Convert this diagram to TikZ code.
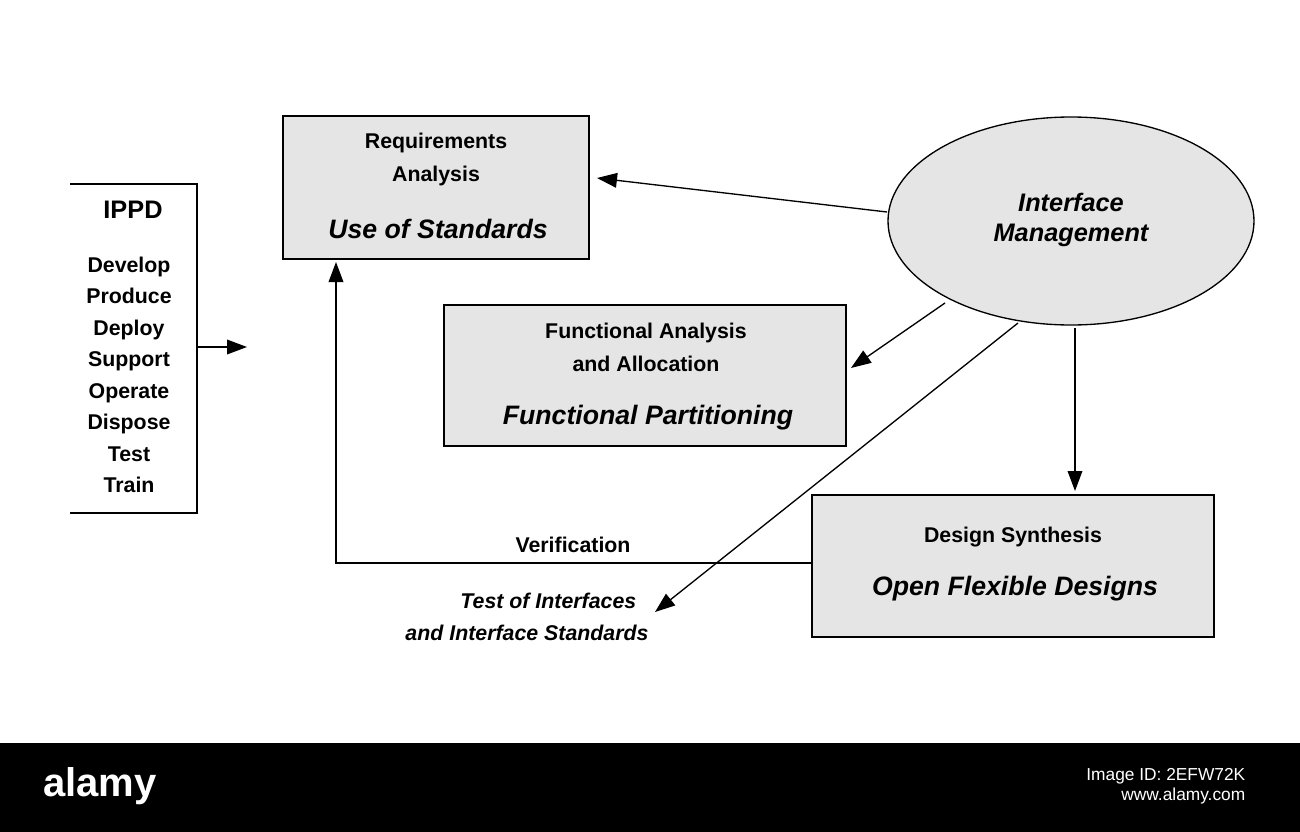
\documentclass[tikz,border=0pt]{standalone}
\usepackage{fontspec}
\setmainfont{Liberation Sans}
\usetikzlibrary{arrows.meta}
\begin{document}
\begin{tikzpicture}[x=0.75pt,y=-0.75pt,
  box/.style={draw,fill=black!10,line width=1pt},
  arr/.style={-{Triangle[length=15pt,width=11pt]},line width=1pt},
  t/.style={font=\bfseries\fontsize{16}{18}\selectfont,inner sep=0pt},
  big/.style={font=\bfseries\itshape\fontsize{20}{22}\selectfont,inner sep=0pt}]
\useasboundingbox (0,0) rectangle (1300,832);
\fill[white] (0,0) rectangle (1300,743);
\fill[black] (0,743) rectangle (1300,832);
\node[font=\bfseries\fontsize{30}{32}\selectfont,text=white] (al) at (100,786) {alamy};
\node[font=\fontsize{13}{15}\selectfont,text=white,align=right,anchor=east] (id) at (1250,786) {Image ID: 2EFW72K\\www.alamy.com};
% IPPD
\draw[line width=1pt] (70,184) -- (197,184) -- (197,513) -- (70,513);
\coordinate (ippdR) at (197,347);
\node[font=\bfseries\fontsize{19}{21}\selectfont] (ippd) at (133,210) {IPPD};
\node[t,align=center,font=\bfseries\fontsize{16}{23.6}\selectfont] (list) at (129,375) {Develop\\Produce\\Deploy\\Support\\Operate\\Dispose\\Test\\Train};
\coordinate (ippdE) at (247,347);
\draw[arr] (ippdR) -- (ippdE);
% boxes
\draw[box] (283,116) rectangle (589,259);
\node[t] (r1) at (436,143) {Requirements};
\node[t] (r2) at (436,176) {Analysis};
\node[big] (r3) at (438,229) {Use of Standards};
\draw[box] (444,305) rectangle (846,446);
\node[t] (f1) at (646,333) {Functional Analysis};
\node[t] (f2) at (646,364) {and Allocation};
\node[big] (f3) at (648,418) {Functional Partitioning};
\draw[box] (812,495) rectangle (1214,637);
\node[t] (d1) at (1013,537) {Design Synthesis};
\node[big] (d2) at (1015,589) {Open Flexible Designs};
\draw[fill=black!10,line width=1pt] (1071,221) ellipse [x radius=183,y radius=104];
\node[big,align=center,font=\bfseries\itshape\fontsize{19}{23}\selectfont] (im) at (1071,220) {Interface\\Management};
% arrows
\coordinate (a1s) at (887,212); \coordinate (a1e) at (597,178);
\draw[arr] (a1s) -- (a1e);
\coordinate (a2s) at (945,303); \coordinate (a2e) at (851,368);
\draw[arr] (a2s) -- (a2e);
\coordinate (a3s) at (1075,328); \coordinate (a3e) at (1075,491);
\draw[arr] (a3s) -- (a3e);
\coordinate (a4s) at (1018,323); \coordinate (a4e) at (655,612);
\draw[arr] (a4s) -- (a4e);
\coordinate (vs) at (812,563); \coordinate (ve) at (336,262);
\draw[arr] (vs) -- (336,563) -- (ve);
\node[t] (ver) at (573,545) {Verification};
\node[big,font=\bfseries\itshape\fontsize{16}{23.5}\selectfont,align=center] (toi) at (527,617) {\hspace*{2em}Test of Interfaces\\and Interface Standards};
\end{tikzpicture}
\end{document}
